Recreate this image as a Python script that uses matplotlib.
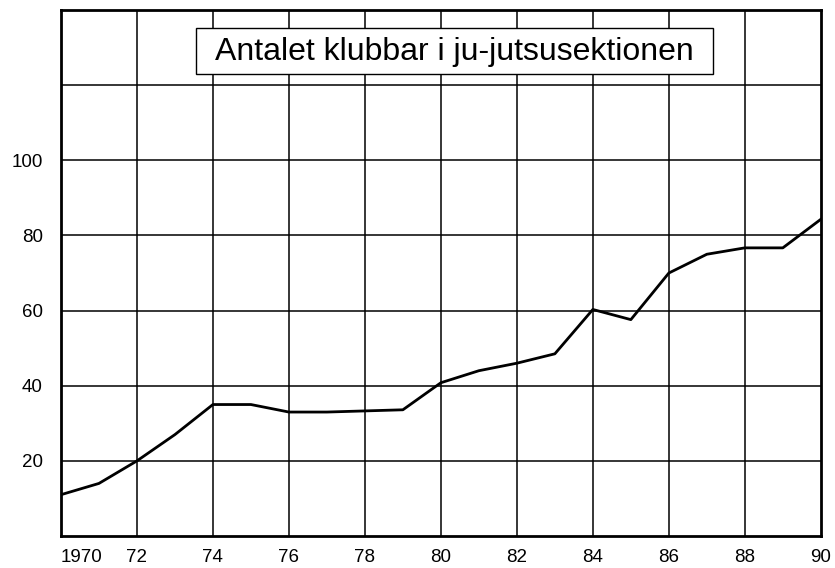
import matplotlib.pyplot as plt
from matplotlib.patches import Rectangle

plt.rcParams['font.family'] = ['Liberation Sans', 'DejaVu Sans']

# number of clubs per year
years = list(range(1970, 1991))
clubs = [11, 14, 20, 27, 35, 35, 33, 33, 33.3, 33.6, 40.8, 44, 46, 48.5,
         60.3, 57.6, 70, 75, 76.7, 76.7, 84.3]

xticks = list(range(1970, 1991, 2))
xlabels = ['1970', '72', '74', '76', '78', '80', '82', '84', '86', '88', '90']
yticks = [20, 40, 60, 80, 100]
title = 'Antalet klubbar i ju-jutsusektionen'

fig = plt.figure(figsize=(8.35, 5.68), dpi=100)
ax = fig.add_axes([0.073, 0.0563, 0.910, 0.926])

ax.plot(years, clubs, color='black', lw=2.0, zorder=3)

ax.set_xlim(1970, 1990)
ax.set_ylim(0, 140)

# grid every two years and every 20 clubs
for x in xticks[1:-1]:
    ax.axvline(x, color='black', lw=1.1, zorder=1)
for y in range(20, 140, 20):
    ax.axhline(y, color='black', lw=1.1, zorder=1)

ax.set_xticks(xticks)
ax.set_xticklabels(xlabels, fontsize=13.5)
ax.get_xticklabels()[0].set_horizontalalignment('left')
ax.set_yticks(yticks)
ax.set_yticklabels([str(v) for v in yticks], fontsize=13.5)
ax.tick_params(length=0)
ax.tick_params(axis='x', pad=9)
ax.tick_params(axis='y', pad=13)

for s in ax.spines.values():
    s.set_linewidth(2.0)

# title box
ax.add_patch(Rectangle((0.178, 0.878), 0.68, 0.088, transform=ax.transAxes,
                       fc='white', ec='black', lw=1.0, zorder=4))
ax.text(0.518, 0.921, title, transform=ax.transAxes, fontsize=23,
        ha='center', va='center', zorder=5)

fig.savefig('out.png', dpi=100)
